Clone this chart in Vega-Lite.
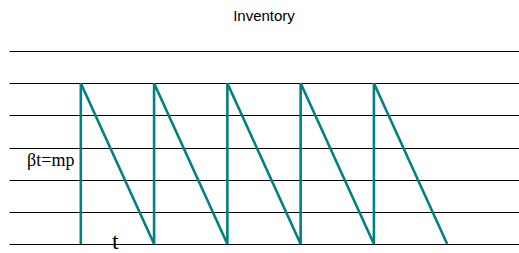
{
  "$schema": "https://vega.github.io/schema/vega-lite/v6.json",
  "width": 510,
  "height": 193,
  "autosize": {"type": "none"},
  "padding": {"left": 9, "top": 51, "right": 0, "bottom": 9},
  "title": {"text": "Inventory", "font": "Liberation Sans", "fontSize": 15, "fontWeight": "normal", "color": "#000000", "baseline": "alphabetic", "offset": 15, "anchor": "middle"},
  "config": {
    "view": {"stroke": null},
    "axisY": {"grid": true, "gridColor": "#000000", "gridOpacity": 1, "gridWidth": 1, "labels": false, "ticks": false, "domain": false, "title": null, "values": [0, 1, 2, 3, 4, 5, 6], "labelOverlap": false}
  },
  "datasets": {
    "saw": [
      {"i": 1, "x": 1, "inv": 0},
      {"i": 2, "x": 1, "inv": 5},
      {"i": 3, "x": 2, "inv": 0},
      {"i": 4, "x": 2, "inv": 5},
      {"i": 5, "x": 3, "inv": 0},
      {"i": 6, "x": 3, "inv": 5},
      {"i": 7, "x": 4, "inv": 0},
      {"i": 8, "x": 4, "inv": 5},
      {"i": 9, "x": 5, "inv": 0},
      {"i": 10, "x": 5, "inv": 5},
      {"i": 11, "x": 6, "inv": 0}
    ],
    "label1": [
      {"x": 0.59, "inv": 2.42, "label": "βt=mp"}
    ],
    "label2": [
      {"x": 1.47, "inv": -0.16, "label": "t"}
    ]
  },
  "layer": [
    {
      "data": {"name": "saw"},
      "mark": {"type": "line", "color": "#008080", "strokeWidth": 2.6, "clip": false},
      "encoding": {
        "x": {"field": "x", "type": "quantitative", "scale": {"domain": [0.02, 6.98], "nice": false, "zero": false}, "axis": null},
        "y": {"field": "inv", "type": "quantitative", "scale": {"domain": [0, 6], "nice": false}, "axis": {"values": [0, 1, 2, 3, 4, 5, 6], "tickCount": 7}},
        "order": {"field": "i", "type": "quantitative"}
      }
    },
    {
      "data": {"name": "label1"},
      "mark": {"type": "text", "font": "Liberation Serif", "fontSize": 18, "color": "#000000", "baseline": "alphabetic", "align": "center"},
      "encoding": {
        "x": {"field": "x", "type": "quantitative"},
        "y": {"field": "inv", "type": "quantitative", "axis": {"values": [0, 1, 2, 3, 4, 5, 6], "tickCount": 7}},
        "text": {"field": "label", "type": "nominal"}
      }
    },
    {
      "data": {"name": "label2"},
      "mark": {"type": "text", "font": "Liberation Serif", "fontSize": 24, "color": "#000000", "baseline": "alphabetic", "align": "center"},
      "encoding": {
        "x": {"field": "x", "type": "quantitative"},
        "y": {"field": "inv", "type": "quantitative", "axis": {"values": [0, 1, 2, 3, 4, 5, 6], "tickCount": 7}},
        "text": {"field": "label", "type": "nominal"}
      }
    }
  ]
}
